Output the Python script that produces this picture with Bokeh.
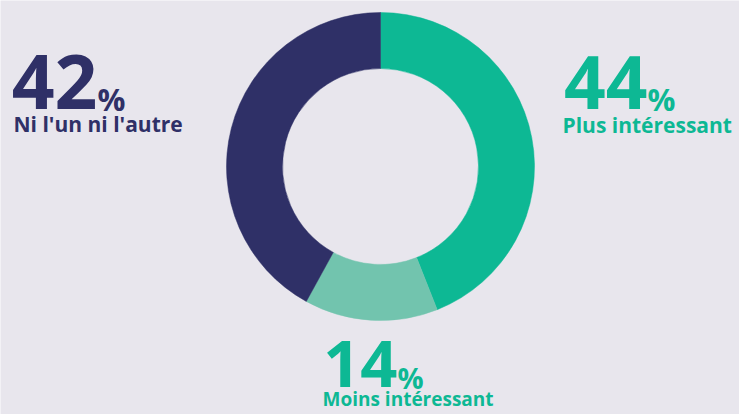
import math
from bokeh.plotting import figure
from bokeh.models import Range1d
from bokeh.core.properties import value
from bokeh.embed import file_html
from bokeh.resources import INLINE

# ---- data ----
categories = ["Plus intéressant", "Moins intéressant", "Ni l'un ni l'autre"]
values = [44, 14, 42]
colors = ["#0db894", "#72c4ae", "#2f3067"]
text_colors = ["#0db894", "#0db894", "#2f3067"]

BG = "#e8e6ed"
FONT = value("Open Sans")
W, H = 739, 414
SHIFT = 0.4  # em offset compensating the renderer's baseline placement

p = figure(width=W, height=H, output_backend="svg", toolbar_location=None,
           x_range=Range1d(0, W), y_range=Range1d(0, H),
           min_border=0, outline_line_color=None)
p.axis.visible = False
p.grid.visible = False
p.background_fill_color = BG
p.border_fill_color = BG

def Y(py):
    return H - py

# donut
total = sum(values)
cx, cy = 380, Y(166)
starts, ends = [], []
acc = 0
for v in values:
    starts.append(math.pi / 2 - 2 * math.pi * acc / total)
    acc += v
    ends.append(math.pi / 2 - 2 * math.pi * acc / total)
p.annular_wedge(x=[cx] * len(values), y=[cy] * len(values), inner_radius=98, outer_radius=154,
                start_angle=starts, end_angle=ends, direction="clock",
                fill_color=colors, line_color=colors, line_width=0.5,
                inner_radius_units="screen", outer_radius_units="screen")

def txt(x, baseline, s, size, color, align="left"):
    p.text(x=[x], y=[Y(baseline - SHIFT * size)], text=[s], text_font=FONT,
           text_font_style="bold", text_font_size=f"{size}px", text_color=color,
           text_baseline="alphabetic", text_align=align)

# (pct x, number baseline, number size, pct size, label x, label baseline, label size)
layout = [
    (647, 111, 73, 31, 562, 133, 21),
    (397, 389, 65, 29, 322, 406, 19),
    (97, 111, 75, 31, 13, 132, 21),
]
for (px_, nb, ns, ps, lx, lb, ls), cat, v, c in zip(layout, categories, values, text_colors):
    txt(px_, nb, str(v), ns, c, align="right")
    txt(px_, nb, "%", ps, c)
    txt(lx, lb, cat, ls, c)

html = file_html(p, INLINE)
open("out.html", "w").write(html)
